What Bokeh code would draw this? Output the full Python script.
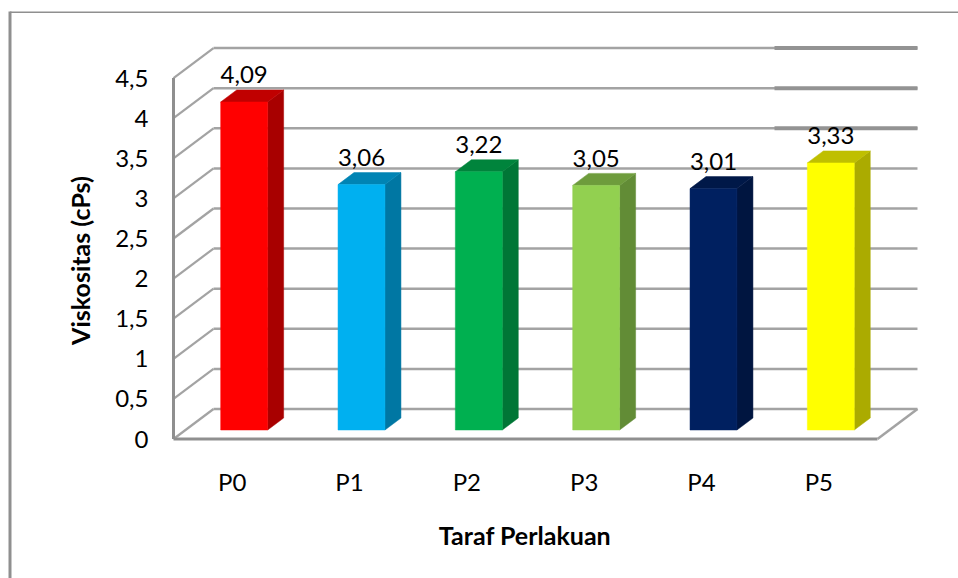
from math import pi

from bokeh.core.properties import value
from bokeh.embed import file_html
from bokeh.models import ColumnDataSource, FixedTicker, Range1d
from bokeh.plotting import figure
from bokeh.resources import INLINE

# Chart data
categories = ["P0", "P1", "P2", "P3", "P4", "P5"]
viscosity = [4.09, 3.06, 3.22, 3.05, 3.01, 3.33]
value_labels = ["4,09", "3,06", "3,22", "3,05", "3,01", "3,33"]
y_ticks = [0, 0.5, 1, 1.5, 2, 2.5, 3, 3.5, 4, 4.5]
y_tick_labels = ["0", "0,5", "1", "1,5", "2", "2,5", "3", "3,5", "4", "4,5"]

# Bar face colours: front, side, top
front_colors = ["#FF0000", "#00B0F0", "#00B050", "#92D050", "#002060", "#FFFF00"]
side_colors = ["#A80000", "#0077A3", "#007636", "#628C36", "#001540", "#ABAB00"]
top_colors = ["#C00000", "#0084B4", "#00843C", "#6E9C3C", "#001848", "#BFBF00"]

FONT = "Lato"
W, H = 958, 578

# Oblique projection: pixel position of the origin and scale of each axis
ORIGIN_X, ORIGIN_Y = 173, 438.5
PX_PER_CAT = 117.33
PX_PER_UNIT = 80.2
DX = 40 / PX_PER_CAT   # wall depth in x data units
DY = 30 / PX_PER_UNIT  # wall depth in y data units
N = len(categories)
BAR_W = 0.40
NEAR, FAR = 0.3, 0.7   # depth span of each bar within the floor


def xd(px):
    return (px - ORIGIN_X) / PX_PER_CAT


def yd(py):
    return (ORIGIN_Y - py) / PX_PER_UNIT


# The frame fills the page; both axes sit inside it at the origin
p = figure(
    width=W, height=H,
    x_range=Range1d(xd(0), xd(W)),
    y_range=Range1d(yd(H), yd(0)),
    output_backend="svg", toolbar_location=None,
    min_border=0,
    background_fill_color="#FFFFFF", border_fill_color="#FFFFFF",
)
p.outline_line_color = None
p.grid.visible = False

GRID = "#A3A3A3"
DARK = "#939393"
EDGE = "#8F8F8F"
y_top = max(y_ticks)

# Outer chart border: left and top edges
p.line([xd(9.5), xd(W)], [yd(11.7), yd(11.7)], line_color=EDGE, line_width=1.6)
p.line([xd(9.5), xd(9.5)], [yd(H), yd(11)], line_color=EDGE, line_width=3)

# Back-wall gridlines and the diagonals joining them to the front edge
p.segment(x0=[DX] * len(y_ticks), x1=[N + DX] * len(y_ticks),
          y0=[t + DY for t in y_ticks], y1=[t + DY for t in y_ticks],
          line_color=GRID, line_width=2.5)
p.segment(x0=[0] * len(y_ticks), x1=[DX] * len(y_ticks),
          y0=y_ticks, y1=[t + DY for t in y_ticks],
          line_color=GRID, line_width=2.2)

# Heavier right-hand stretch of the three highest gridlines
heavy = [t for t in y_ticks if t >= 3.5]
p.segment(x0=[xd(774)] * len(heavy), x1=[N + DX] * len(heavy),
          y0=[t + DY for t in heavy], y1=[t + DY for t in heavy],
          line_color=DARK, line_width=4)

# Left wall edge, floor front edge and floor right edge
p.line([0, 0], [0, y_top], line_color=EDGE, line_width=3)
p.line([0, N], [0, 0], line_color=EDGE, line_width=3)
p.line([N, N + DX], [0, DY], line_color=GRID, line_width=2.5)

# Axes carry only the tick labels; the walls are drawn as lines above
p.xaxis[0].fixed_location = 0
p.yaxis[0].fixed_location = 0
for ax in (p.xaxis[0], p.yaxis[0]):
    ax.axis_line_color = None
    ax.major_tick_line_color = None
    ax.minor_tick_line_color = None
    ax.major_label_text_font = FONT
    ax.major_label_text_font_size = "24px"
    ax.major_label_text_color = "#000000"

p.xaxis[0].ticker = FixedTicker(ticks=[i + 0.5 for i in range(N)])
p.xaxis[0].major_label_overrides = {i + 0.5: c for i, c in enumerate(categories)}
p.xaxis[0].major_label_standoff = 22
p.yaxis[0].ticker = FixedTicker(ticks=y_ticks)
p.yaxis[0].major_label_overrides = dict(zip(y_ticks, y_tick_labels))
p.yaxis[0].major_label_standoff = 19
p.yaxis[0].major_label_orientation = "horizontal"

# Bars as three faces in oblique projection
front_x, front_y, side_x, side_y, top_x, top_y = [], [], [], [], [], []
for i, v in enumerate(viscosity):
    x0 = i + 0.5 + NEAR * DX - BAR_W / 2
    x1 = x0 + BAR_W
    y0 = NEAR * DY
    y1 = v + NEAR * DY
    ddx = (FAR - NEAR) * DX
    ddy = (FAR - NEAR) * DY
    front_x.append([x0, x1, x1, x0])
    front_y.append([y0, y0, y1, y1])
    side_x.append([x1, x1 + ddx, x1 + ddx, x1])
    side_y.append([y0, y0 + ddy, y1 + ddy, y1])
    top_x.append([x0, x1, x1 + ddx, x0 + ddx])
    top_y.append([y1, y1, y1 + ddy, y1 + ddy])

p.patches(side_x, side_y, fill_color=side_colors, line_color=side_colors, line_width=0.5)
p.patches(top_x, top_y, fill_color=top_colors, line_color=top_colors, line_width=0.5)
p.patches(front_x, front_y, fill_color=front_colors, line_color=front_colors, line_width=0.5)

# Value labels above each bar
labels = ColumnDataSource(dict(
    x=[i + 0.5 + NEAR * DX for i in range(N)],
    y=[v + NEAR * DY for v in viscosity],
    text=value_labels,
))
p.text("x", "y", text="text", source=labels,
       text_font=value(FONT), text_font_size="24px", text_color="#000000",
       text_align="center", text_baseline="alphabetic", y_offset=-27)

# Axis titles
p.text([xd(524.5)], [yd(534)], text=["Taraf Perlakuan"],
       text_font=value(FONT), text_font_size="25px", text_font_style="bold",
       text_color="#000000", text_align="center", text_baseline="middle")
p.text([xd(79)], [yd(260)], text=["Viskositas (cPs)"], angle=pi / 2,
       text_font=value(FONT), text_font_size="25px", text_font_style="bold",
       text_color="#000000", text_align="center", text_baseline="middle")

open("out.html", "w").write(file_html(p, INLINE))
